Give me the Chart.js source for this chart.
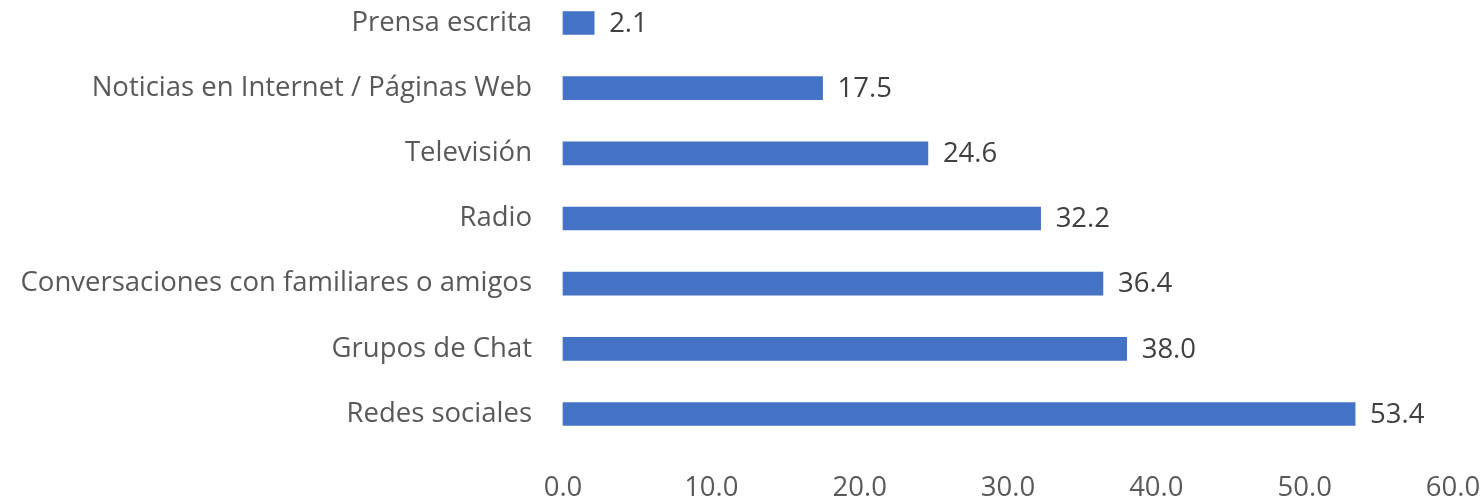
<!DOCTYPE html>
<html>
<head>
<meta charset="utf-8">
<script src="https://cdn.jsdelivr.net/npm/chart.js@4"></script>
<style>
  html, body { margin: 0; padding: 0; background: #fff; }
  #wrap { width: 1484px; height: 500px; }
</style>
</head>
<body>
<div id="wrap"><canvas id="canvas1"></canvas></div>
<script>
// categories top to bottom
var categories = ['Prensa escrita', 'Noticias en Internet / Páginas Web', 'Televisión', 'Radio',
  'Conversaciones con familiares o amigos', 'Grupos de Chat', 'Redes sociales'];
var values = [2.1, 17.5, 24.6, 32.2, 36.4, 38.0, 53.4];
var xMin = 0, xMax = 60, xStep = 10;

var FONT = '"Open Sans", sans-serif';
var FSIZE = 27.5;

// value labels at end of each bar
const valueLabels = {
  id: 'valueLabels',
  afterDatasetsDraw(chart) {
    const ctx = chart.ctx;
    const meta = chart.getDatasetMeta(0);
    ctx.save();
    ctx.font = FSIZE + 'px ' + FONT;
    ctx.fillStyle = '#404040';
    ctx.textAlign = 'left';
    ctx.textBaseline = 'middle';
    meta.data.forEach(function (bar, i) {
      ctx.fillText(values[i].toFixed(1), bar.x + 15, bar.y + 1);
    });
    ctx.restore();
  }
};

function createChart(chartId) {
  const config = {
    type: 'bar',
    data: {
      labels: categories,
      datasets: [{
        data: values,
        backgroundColor: '#4472C4',
        borderWidth: 0,
        barThickness: 23,
        clip: false
      }]
    },
    options: {
      indexAxis: 'y',
      responsive: false,
      animation: false,
      layout: { padding: { top: 23, right: 31, bottom: 0, left: 0 } },
      plugins: { legend: { display: false }, tooltip: { enabled: false } },
      scales: {
        y: {
          offset: false,
          grid: { display: false, drawTicks: false },
          border: { display: false },
          ticks: { color: '#595959', font: { family: FONT, size: FSIZE }, padding: 31 },
          afterFit: function (scale) {
            scale.width = 563;
            scale.paddingTop = 0;
            scale.paddingBottom = 0;
          }
        },
        x: {
          min: xMin, max: xMax,
          grid: { display: false, drawTicks: false },
          border: { display: false },
          ticks: {
            stepSize: xStep,
            color: '#595959',
            font: { family: FONT, size: FSIZE },
            padding: 58,
            maxRotation: 0,
            callback: function (v) { return Number(v).toFixed(1); }
          },
          afterFit: function (scale) {
            scale.height = 86;
            scale.paddingLeft = 0;
            scale.paddingRight = 0;
          }
        }
      }
    },
    plugins: [valueLabels]
  };
  const canvas = document.getElementById(chartId);
  canvas.width = 1484;
  canvas.height = 500;
  return new Chart(canvas, config);
}

var chartInstance = createChart('canvas1');
</script>
</body>
</html>
